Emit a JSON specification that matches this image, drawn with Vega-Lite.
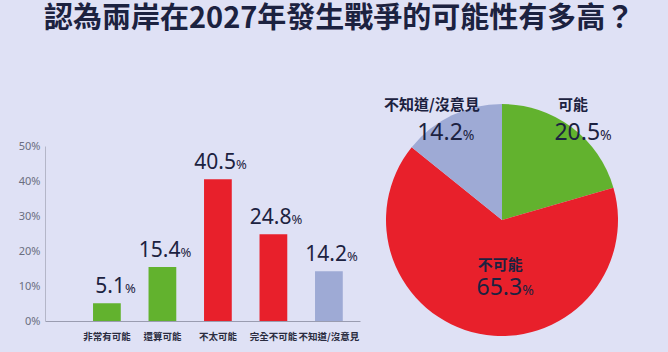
{
  "$schema": "https://vega.github.io/schema/vega-lite/v6.json",
  "background": "#dfe1f5",
  "padding": {"left": 18, "top": 4, "right": 60, "bottom": 20},
  "title": {
    "text": "認為兩岸在2027年發生戰爭的可能性有多高？",
    "fontSize": 29,
    "font": "Noto Sans CJK TC",
    "fontWeight": "bold",
    "color": "#1c2240",
    "anchor": "middle",
    "offset": 51,
    "dx": 21
  },
  "bounds": "flush",
  "spacing": 26,
  "config": {"view": {"stroke": null}, "font": "Noto Sans CJK TC"},
  "datasets": {
    "bars": [
      {"cat": "非常有可能", "pct": 5.1, "group": "可能"},
      {"cat": "還算可能", "pct": 15.4, "group": "可能"},
      {"cat": "不太可能", "pct": 40.5, "group": "不可能"},
      {"cat": "完全不可能", "pct": 24.8, "group": "不可能"},
      {"cat": "不知道/沒意見", "pct": 14.2, "group": "不知道/沒意見"}
    ],
    "pie": [
      {"cat": "可能", "pct": 20.5, "order": 1},
      {"cat": "不可能", "pct": 65.3, "order": 2},
      {"cat": "不知道/沒意見", "pct": 14.2, "order": 3}
    ]
  },
  "hconcat": [
    {
      "width": 315,
      "height": 175,
      "data": {"name": "bars"},
      "encoding": {
        "x": {
          "field": "cat", "type": "nominal", "sort": null,
          "scale": {"paddingInner": 0.5, "paddingOuter": 0.588, "align": 0.736},
          "axis": {"title": null, "labelAngle": 0, "ticks": false, "domainColor": "#9a9cb0", "labelFontSize": 9.5, "labelFontWeight": "bold", "labelColor": "#2a2c40", "labelPadding": 10, "labelFont": "Noto Sans CJK TC"}
        },
        "y": {
          "field": "pct", "type": "quantitative",
          "scale": {"domain": [0, 50]},
          "axis": {"title": null, "values": [0, 10, 20, 30, 40, 50], "labelExpr": "datum.value + '%'", "ticks": false, "grid": false, "domainColor": "#b4b6c8", "labelColor": "#6a6e80", "labelFontSize": 11, "labelFont": "Noto Sans", "labelPadding": 5}
        }
      },
      "layer": [
        {
          "mark": {"type": "bar"},
          "encoding": {
            "color": {"field": "group", "type": "nominal", "scale": {"domain": ["可能", "不可能", "不知道/沒意見"], "range": ["#62b22e", "#e8202b", "#9eaad5"]}, "legend": null}
          }
        },
        {
          "mark": {"type": "text", "align": "right", "baseline": "alphabetic", "dx": 18, "dy": -10, "fontSize": 21, "font": "Noto Sans", "color": "#1c2240"},
          "encoding": {"text": {"field": "pct", "type": "quantitative", "format": ".1f"}}
        },
        {
          "mark": {"type": "text", "align": "left", "baseline": "alphabetic", "dx": 18, "dy": -10, "fontSize": 13, "font": "Noto Sans", "color": "#1c2240", "text": "%"}
        }
      ]
    },
    {
      "width": 232,
      "height": 148,
      "data": {"name": "pie"},
      "encoding": {
        "theta": {"field": "pct", "type": "quantitative", "stack": true},
        "order": {"field": "order", "type": "quantitative"}
      },
      "layer": [
        {
          "mark": {"type": "arc", "outerRadius": 116},
          "encoding": {
            "color": {"field": "cat", "type": "nominal", "scale": {"domain": ["可能", "不可能", "不知道/沒意見"], "range": ["#62b22e", "#e8202b", "#a3b0db"]}, "legend": null}
          }
        },
        {
          "mark": {"type": "text", "radius": 130, "align": "center", "baseline": "alphabetic", "dx": -7, "dy": -6, "fontSize": 15, "fontWeight": "bold", "font": "Noto Sans CJK TC", "color": "#1c2240"},
          "encoding": {"text": {"condition": {"test": "datum.cat === '可能'", "field": "cat"}, "value": ""}}
        },
        {
          "mark": {"type": "text", "radius": 130, "align": "right", "baseline": "alphabetic", "dx": 20, "dy": 24, "fontSize": 23, "font": "Noto Sans", "color": "#1c2240"},
          "encoding": {"text": {"condition": {"test": "datum.cat === '可能'", "field": "pct", "format": ".1f"}, "value": ""}}
        },
        {
          "mark": {"type": "text", "radius": 130, "align": "left", "baseline": "alphabetic", "dx": 20, "dy": 24, "fontSize": 14, "font": "Noto Sans", "color": "#1c2240"},
          "encoding": {"text": {"condition": {"test": "datum.cat === '可能'", "value": "%"}, "value": ""}}
        },
        {
          "mark": {"type": "text", "radius": 100, "align": "center", "baseline": "alphabetic", "dx": -27, "dy": -20, "fontSize": 15, "fontWeight": "bold", "font": "Noto Sans CJK TC", "color": "#1c2240"},
          "encoding": {"text": {"condition": {"test": "datum.cat === '不知道/沒意見'", "field": "cat"}, "value": ""}}
        },
        {
          "mark": {"type": "text", "radius": 100, "align": "right", "baseline": "alphabetic", "dx": 4, "dy": 10, "fontSize": 23, "font": "Noto Sans", "color": "#1c2240"},
          "encoding": {"text": {"condition": {"test": "datum.cat === '不知道/沒意見'", "field": "pct", "format": ".1f"}, "value": ""}}
        },
        {
          "mark": {"type": "text", "radius": 100, "align": "left", "baseline": "alphabetic", "dx": 4, "dy": 10, "fontSize": 14, "font": "Noto Sans", "color": "#1c2240"},
          "encoding": {"text": {"condition": {"test": "datum.cat === '不知道/沒意見'", "value": "%"}, "value": ""}}
        },
        {
          "mark": {"type": "text", "radius": 60, "align": "center", "baseline": "alphabetic", "dx": 10, "dy": -9, "fontSize": 15, "fontWeight": "bold", "font": "Noto Sans CJK TC", "color": "#1c2240"},
          "encoding": {"text": {"condition": {"test": "datum.cat === '不可能'", "field": "cat"}, "value": ""}}
        },
        {
          "mark": {"type": "text", "radius": 60, "align": "right", "baseline": "alphabetic", "dx": 32, "dy": 16, "fontSize": 23, "font": "Noto Sans", "color": "#1c2240"},
          "encoding": {"text": {"condition": {"test": "datum.cat === '不可能'", "field": "pct", "format": ".1f"}, "value": ""}}
        },
        {
          "mark": {"type": "text", "radius": 60, "align": "left", "baseline": "alphabetic", "dx": 32, "dy": 16, "fontSize": 14, "font": "Noto Sans", "color": "#1c2240"},
          "encoding": {"text": {"condition": {"test": "datum.cat === '不可能'", "value": "%"}, "value": ""}}
        }
      ]
    }
  ]
}
